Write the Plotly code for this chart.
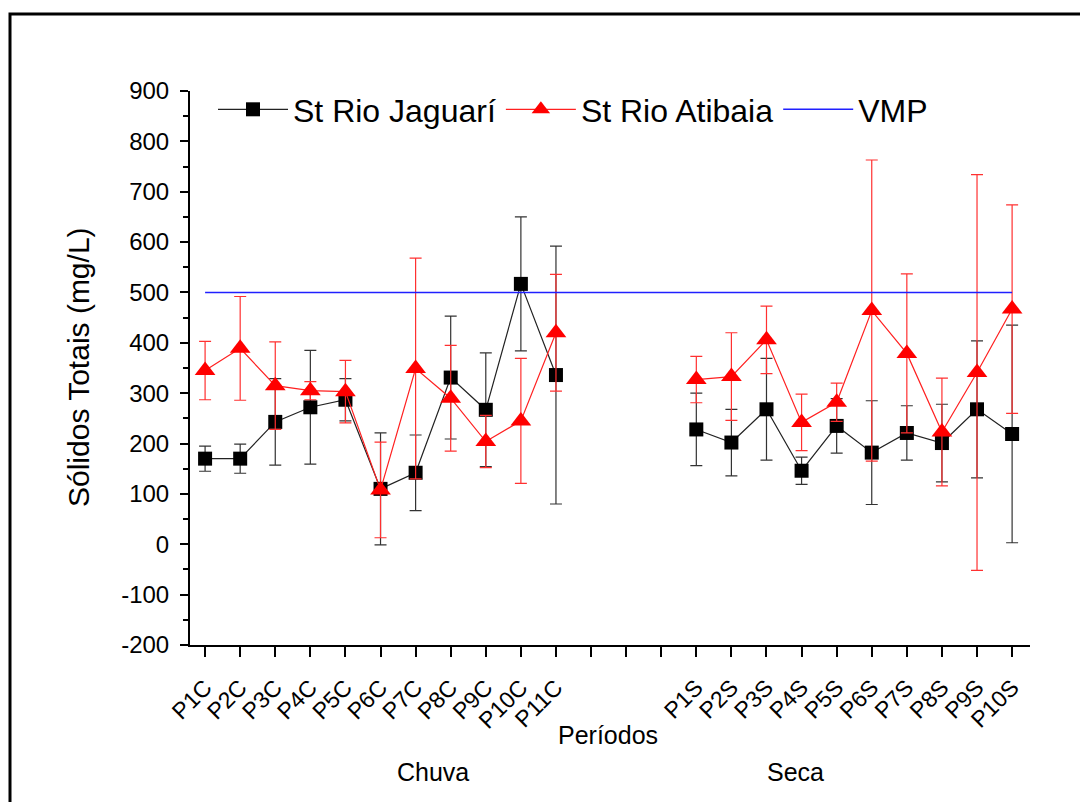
import plotly.graph_objects as go

# ---- data ----
periods = ["P1C", "P2C", "P3C", "P4C", "P5C", "P6C", "P7C", "P8C", "P9C", "P10C", "P11C",
           "", "", "",
           "P1S", "P2S", "P3S", "P4S", "P5S", "P6S", "P7S", "P8S", "P9S", "P10S"]
positions = list(range(1, len(periods) + 1))

jaguari = [170, 170, 243, 272, 287, 110, 142, 331, 267, 517, 336,
           None, None, None,
           228, 202, 268, 146, 235, 182, 221, 201, 268, 219]
jaguari_err = [25, 29, 86, 113, 42, 111, 75, 122, 113, 133, 256,
               None, None, None,
               72, 66, 101, 27, 54, 103, 54, 77, 136, 216]

atibaia = [345, 389, 315, 305, 303, 108, 349, 290, 204, 245, 420,
           None, None, None,
           327, 333, 406, 242, 282, 464, 379, 223, 341, 467]
atibaia_err = [58, 103, 87, 18, 62, 95, 219, 105, 52, 124, 116,
               None, None, None,
               46, 87, 67, 56, 38, 299, 158, 107, 393, 207]

vmp_value = 500
y_ticks = [-200, -100, 0, 100, 200, 300, 400, 500, 600, 700, 800, 900]
y_ticktext = ["-200", "-100", "0", "100", "200", "300", "400", "500", "600", "700", "800", "900"]

fig = go.Figure()

fig.add_trace(go.Scatter(
    x=positions, y=jaguari, name="St Rio Jaguarí", mode="lines+markers",
    line=dict(color="#222222", width=1.2),
    marker=dict(symbol="square", size=14, color="black"),
    error_y=dict(type="data", array=jaguari_err, visible=True,
                 color="#333333", thickness=1.2, width=6),
    connectgaps=False,
))
fig.add_trace(go.Scatter(
    x=positions, y=atibaia, name="St Rio Atibaia", mode="lines+markers",
    line=dict(color="#ff2020", width=1.2),
    marker=dict(symbol="triangle-up", size=18, color="#ff0000"),
    error_y=dict(type="data", array=atibaia_err, visible=True,
                 color="#ff3030", thickness=1.2, width=6),
    connectgaps=False,
))
fig.add_trace(go.Scatter(
    x=[positions[0], positions[-1]], y=[vmp_value, vmp_value], name="VMP",
    mode="lines", line=dict(color="#2020ff", width=1.5),
))

font_family = "Liberation Sans, Arial, sans-serif"

def px_x(p):
    return (p - 190) / 840

def px_y(p):
    return (645 - p) / 554

fig.update_layout(
    width=1080, height=802,
    margin=dict(l=190, r=50, t=91, b=157),
    paper_bgcolor="white", plot_bgcolor="white",
    font=dict(family=font_family, color="black"),
    showlegend=True,
    legend=dict(orientation="h", x=px_x(213), y=px_y(82), xanchor="left", yanchor="top",
                font=dict(size=32, family=font_family), bgcolor="rgba(0,0,0,0)",
                itemwidth=70, tracegroupgap=0),
    xaxis=dict(
        range=[0.57, 24.51], tickmode="array", tickvals=positions, ticktext=periods,
        tickangle=-45, ticks="outside", ticklen=10, tickwidth=2, tickcolor="black",
        showline=True, linecolor="black", linewidth=2, showgrid=False, zeroline=False,
        tickfont=dict(size=23, family=font_family), ticklabelstandoff=8,
    ),
    yaxis=dict(
        range=[-200, 900], tickmode="array", tickvals=y_ticks, ticktext=y_ticktext,
        ticks="outside", ticklen=8, tickwidth=2, tickcolor="black",
        showline=True, linecolor="black", linewidth=2, showgrid=False, zeroline=False,
        tickfont=dict(size=24, family=font_family), ticklabelstandoff=6,
        minor=dict(dtick=50, tick0=-150, ticks="outside", ticklen=5, tickwidth=2, tickcolor="black"),
    ),
    annotations=[
        dict(text="Sólidos Totais (mg/L)", xref="paper", yref="paper",
             x=px_x(78), y=px_y(367), xanchor="center", yanchor="middle",
             textangle=-90, showarrow=False,
             font=dict(size=30, family=font_family)),
        dict(text="Períodos", xref="paper", yref="paper",
             x=px_x(608), y=px_y(735), xanchor="center", yanchor="middle", showarrow=False,
             font=dict(size=25, family=font_family)),
        dict(text="Chuva", xref="paper", yref="paper",
             x=px_x(433), y=px_y(772), xanchor="center", yanchor="middle", showarrow=False,
             font=dict(size=25, family=font_family)),
        dict(text="Seca", xref="paper", yref="paper",
             x=px_x(795), y=px_y(772), xanchor="center", yanchor="middle", showarrow=False,
             font=dict(size=25, family=font_family)),
    ],
    shapes=[
        dict(type="rect", xref="paper", yref="paper",
             x0=px_x(10), x1=1.2, y0=-0.5, y1=px_y(14),
             line=dict(color="black", width=3), fillcolor="rgba(0,0,0,0)", layer="below"),
    ],
)

fig.write_html("out.html")
